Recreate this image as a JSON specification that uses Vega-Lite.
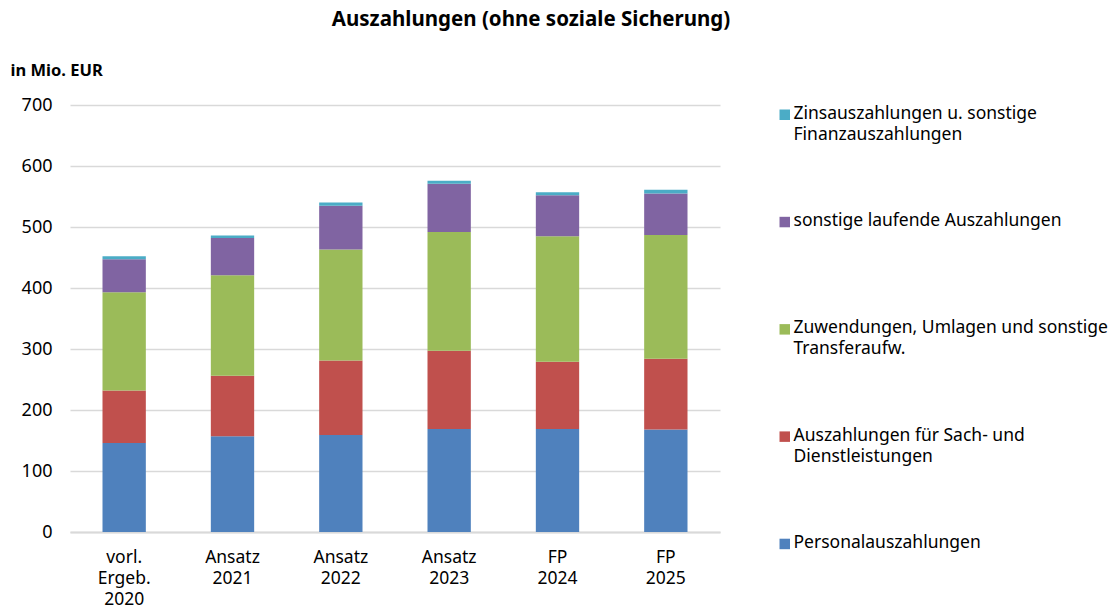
{
  "$schema": "https://vega.github.io/schema/vega-lite/v6.json",
  "width": 650,
  "height": 427,
  "autosize": {"type": "none"},
  "padding": {"left": 70, "top": 105, "right": 396, "bottom": 76},
  "background": "white",
  "title": {"text": "Auszahlungen (ohne soziale Sicherung)", "anchor": "middle", "frame": "group", "dx": 136, "offset": 32, "fontSize": 20.5, "fontWeight": "bold", "font": "Noto Sans", "color": "#000000"},
  "data": {"values": [
    {"period": "vorl. Ergeb. 2020", "cat": "Personalauszahlungen", "rank": 1, "value": 146},
    {"period": "vorl. Ergeb. 2020", "cat": "Auszahlungen für Sach- und|Dienstleistungen", "rank": 2, "value": 86},
    {"period": "vorl. Ergeb. 2020", "cat": "Zuwendungen, Umlagen und sonstige|Transferaufw.", "rank": 3, "value": 161},
    {"period": "vorl. Ergeb. 2020", "cat": "sonstige laufende Auszahlungen", "rank": 4, "value": 54},
    {"period": "vorl. Ergeb. 2020", "cat": "Zinsauszahlungen u. sonstige|Finanzauszahlungen", "rank": 5, "value": 5},
    {"period": "Ansatz 2021", "cat": "Personalauszahlungen", "rank": 1, "value": 157},
    {"period": "Ansatz 2021", "cat": "Auszahlungen für Sach- und|Dienstleistungen", "rank": 2, "value": 99},
    {"period": "Ansatz 2021", "cat": "Zuwendungen, Umlagen und sonstige|Transferaufw.", "rank": 3, "value": 165},
    {"period": "Ansatz 2021", "cat": "sonstige laufende Auszahlungen", "rank": 4, "value": 61},
    {"period": "Ansatz 2021", "cat": "Zinsauszahlungen u. sonstige|Finanzauszahlungen", "rank": 5, "value": 4},
    {"period": "Ansatz 2022", "cat": "Personalauszahlungen", "rank": 1, "value": 159},
    {"period": "Ansatz 2022", "cat": "Auszahlungen für Sach- und|Dienstleistungen", "rank": 2, "value": 122},
    {"period": "Ansatz 2022", "cat": "Zuwendungen, Umlagen und sonstige|Transferaufw.", "rank": 3, "value": 182},
    {"period": "Ansatz 2022", "cat": "sonstige laufende Auszahlungen", "rank": 4, "value": 72},
    {"period": "Ansatz 2022", "cat": "Zinsauszahlungen u. sonstige|Finanzauszahlungen", "rank": 5, "value": 5},
    {"period": "Ansatz 2023", "cat": "Personalauszahlungen", "rank": 1, "value": 169},
    {"period": "Ansatz 2023", "cat": "Auszahlungen für Sach- und|Dienstleistungen", "rank": 2, "value": 128},
    {"period": "Ansatz 2023", "cat": "Zuwendungen, Umlagen und sonstige|Transferaufw.", "rank": 3, "value": 195},
    {"period": "Ansatz 2023", "cat": "sonstige laufende Auszahlungen", "rank": 4, "value": 79},
    {"period": "Ansatz 2023", "cat": "Zinsauszahlungen u. sonstige|Finanzauszahlungen", "rank": 5, "value": 5},
    {"period": "FP 2024", "cat": "Personalauszahlungen", "rank": 1, "value": 169},
    {"period": "FP 2024", "cat": "Auszahlungen für Sach- und|Dienstleistungen", "rank": 2, "value": 110},
    {"period": "FP 2024", "cat": "Zuwendungen, Umlagen und sonstige|Transferaufw.", "rank": 3, "value": 206},
    {"period": "FP 2024", "cat": "sonstige laufende Auszahlungen", "rank": 4, "value": 67},
    {"period": "FP 2024", "cat": "Zinsauszahlungen u. sonstige|Finanzauszahlungen", "rank": 5, "value": 5},
    {"period": "FP 2025", "cat": "Personalauszahlungen", "rank": 1, "value": 168},
    {"period": "FP 2025", "cat": "Auszahlungen für Sach- und|Dienstleistungen", "rank": 2, "value": 116},
    {"period": "FP 2025", "cat": "Zuwendungen, Umlagen und sonstige|Transferaufw.", "rank": 3, "value": 203},
    {"period": "FP 2025", "cat": "sonstige laufende Auszahlungen", "rank": 4, "value": 68},
    {"period": "FP 2025", "cat": "Zinsauszahlungen u. sonstige|Finanzauszahlungen", "rank": 5, "value": 6}
  ]},
  "mark": {"type": "bar"},
  "encoding": {
    "x": {
      "field": "period", "type": "nominal", "sort": null,
      "scale": {"paddingInner": 0.6, "paddingOuter": 0.3},
      "axis": {"title": null, "labelAngle": 0, "labelExpr": "split(datum.label, ' ')", "labelFontSize": 17.5, "labelLineHeight": 21, "labelPadding": 16, "labelBaseline": "top", "labelFont": "Noto Sans", "labelColor": "#000000", "ticks": false, "domainColor": "#d9d9d9", "domainWidth": 2, "grid": false}
    },
    "y": {
      "field": "value", "type": "quantitative", "stack": "zero",
      "scale": {"domain": [0, 700], "nice": false},
      "axis": {"values": [0, 100, 200, 300, 400, 500, 600, 700], "domain": false, "ticks": false, "grid": true, "gridColor": "#d9d9d9", "gridWidth": 1.5, "labelFontSize": 18, "labelFont": "Noto Sans", "labelColor": "#000000", "labelPadding": 18,
        "title": "in Mio. EUR", "titleAngle": 0, "titleX": -60, "titleY": -35, "titleAlign": "left", "titleBaseline": "middle", "titleFontWeight": "bold", "titleFontSize": 16.5, "titleFont": "Noto Sans", "titleColor": "#000000"}
    },
    "color": {
      "field": "cat", "type": "nominal",
      "scale": {
        "domain": ["Zinsauszahlungen u. sonstige|Finanzauszahlungen", "sonstige laufende Auszahlungen", "Zuwendungen, Umlagen und sonstige|Transferaufw.", "Auszahlungen für Sach- und|Dienstleistungen", "Personalauszahlungen"],
        "range": ["#4bacc6", "#8064a2", "#9bbb59", "#c0504d", "#4f81bd"]
      },
      "legend": {"orient": "none", "legendX": 706, "legendY": 1, "direction": "vertical", "title": null, "symbolType": "square", "symbolSize": 110, "symbolStrokeWidth": 0, "labelFontSize": 17.5, "labelFont": "Noto Sans", "labelColor": "#000000", "labelExpr": "split(datum.label, '|')", "labelLimit": 400, "labelOffset": 0, "gridAlign": "all", "rowPadding": 67.3, "labelBaseline": "top",
        "encode": {"labels": {"update": {"dy": {"value": -10}, "lineHeight": {"value": 21}}}}}
    },
    "order": {"field": "rank", "type": "quantitative"}
  },
  "config": {"view": {"stroke": null}}
}
